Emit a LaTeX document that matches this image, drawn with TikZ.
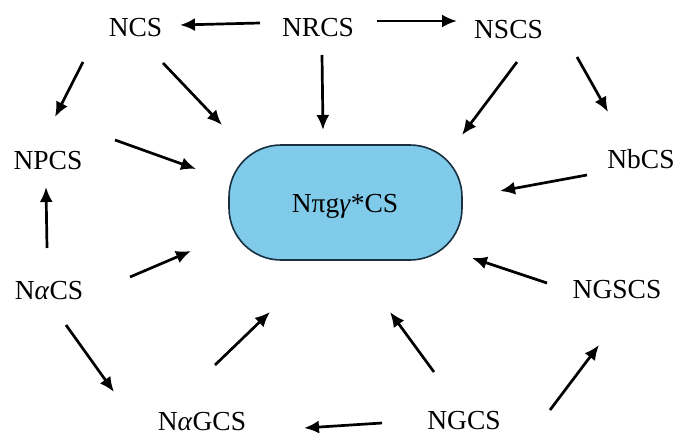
\documentclass[tikz,border=0pt]{standalone}
\usepackage{fontspec}
\setmainfont{Liberation Serif}
\usetikzlibrary{arrows.meta}
\definecolor{boxfill}{RGB}{128,202,234}
\definecolor{boxline}{RGB}{24,48,64}
\tikzset{
  lbl/.style={anchor=base, inner sep=0pt, font=\fontsize{27.5}{32}\selectfont},
  conn/.style={line width=2.7pt, -{Latex[length=15pt,width=13pt]}},
  hub/.style={draw=boxline, line width=1.6pt, fill=boxfill, rounded corners=52pt,
    minimum width=233pt, minimum height=115pt, inner sep=0pt}
}
\begin{document}
\begin{tikzpicture}[x=1pt,y=-1pt]
\useasboundingbox (0,0) rectangle (677,436);
% hub
\node[hub] (hub) at (345.5,202.5) {};
\node[lbl] (hubtxt) at (345,212) {Nπg\textit{γ}*CS};
% labels
\node[lbl] (ncs) at (135.5,37) {NCS};
\node[lbl] (nrcs) at (318,37) {NRCS};
\node[lbl] (nscs) at (508.5,38) {NSCS};
\node[lbl] (npcs) at (48,169) {NPCS};
\node[lbl] (nbcs) at (641,168) {NbCS};
\node[lbl] (nacs) at (49,299) {N\textit{α}CS};
\node[lbl] (ngscs) at (617,298) {NGSCS};
\node[lbl] (nagcs) at (202,430) {N\textit{α}GCS};
\node[lbl] (ngcs) at (464,429) {NGCS};
% connector ends
\coordinate (a1s) at (260,23);  \coordinate (a1e) at (180,25);
\coordinate (a2s) at (377,21);  \coordinate (a2e) at (457,21);
\coordinate (a3s) at (322,55);  \coordinate (a3e) at (323,130);
\coordinate (a4s) at (163,63);  \coordinate (a4e) at (222,125);
\coordinate (a5s) at (83,62);   \coordinate (a5e) at (55,117);
\coordinate (a6s) at (517,62);  \coordinate (a6e) at (462,135);
\coordinate (a7s) at (577,57);  \coordinate (a7e) at (608,112);
\coordinate (a8s) at (115,140); \coordinate (a8e) at (196,169);
\coordinate (a9s) at (587,175); \coordinate (a9e) at (500,191);
\coordinate (b1s) at (547,283); \coordinate (b1e) at (472,258);
\coordinate (b2s) at (47,248);  \coordinate (b2e) at (46,187);
\coordinate (b3s) at (130,277); \coordinate (b3e) at (191,251);
\coordinate (b4s) at (66,325);  \coordinate (b4e) at (114,392);
\coordinate (b5s) at (215,365); \coordinate (b5e) at (270,312);
\coordinate (b6s) at (434,372); \coordinate (b6e) at (390,312);
\coordinate (b7s) at (550,410); \coordinate (b7e) at (599,345);
\coordinate (b8s) at (382,423); \coordinate (b8e) at (304,428);
% connectors
\foreach \c in {a1,a2,a3,a4,a5,a6,a7,a8,a9,b1,b2,b3,b4,b5,b6,b7,b8}
  \draw[conn] (\c s) -- (\c e);
\end{tikzpicture}
\end{document}
